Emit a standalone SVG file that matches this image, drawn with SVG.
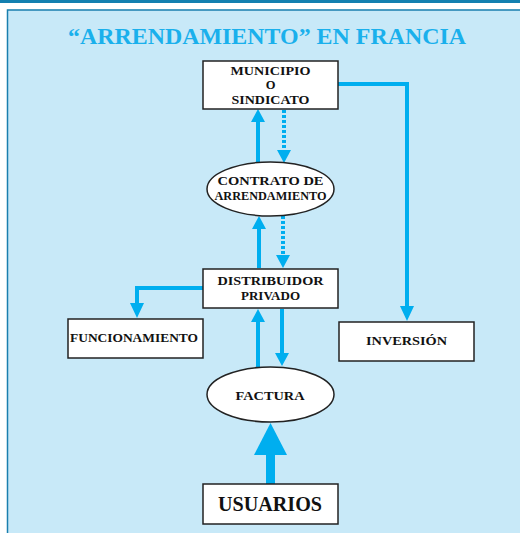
<svg xmlns="http://www.w3.org/2000/svg" width="520" height="533" viewBox="0 0 520 533">
<style>
.box{fill:#fff;stroke:#222;stroke-width:1.5}
.t{font-family:"Liberation Serif","Times New Roman",serif;font-weight:bold;fill:#111;text-anchor:middle}
.ln{fill:none;stroke:#00aeef;stroke-width:4}
.dot{fill:none;stroke:#00aeef;stroke-width:4;stroke-dasharray:3 2}
.hd{fill:#00aeef}
</style>
<rect x="0" y="0" width="520" height="533" fill="#fff"/>
<rect x="0" y="0" width="520" height="3" fill="#1380b0"/>
<rect x="7" y="9.5" width="513" height="523.5" fill="#c8e9f8"/>
<path d="M7.5 533 V10 H520" fill="none" stroke="#1a7fae" stroke-width="1.5"/>
<text x="267" y="44" font-family="'Liberation Serif','Times New Roman',serif" font-weight="bold" font-size="24" fill="#1ab0ec" text-anchor="middle" textLength="398" lengthAdjust="spacingAndGlyphs">“ARRENDAMIENTO” EN FRANCIA</text>
<g id="connectors">
<path class="ln" d="M258 163 V120"/><polygon class="hd" points="251,122 265,122 258,109"/>
<path class="dot" d="M284 110 V152"/><polygon class="hd" points="277,150 291,150 284,163"/>
<path class="ln" d="M259 268 V227"/><polygon class="hd" points="252,229 266,229 259,216"/>
<path class="dot" d="M283 216 V257"/><polygon class="hd" points="276,255 290,255 283,268"/>
<path class="ln" d="M203 288 H137 V305"/><polygon class="hd" points="130,303 144,303 137,318"/>
<path class="ln" d="M338 84 H407 V308"/><polygon class="hd" points="400,306 414,306 407,321"/>
<path class="ln" d="M258 367 V320"/><polygon class="hd" points="251,322 265,322 258,309"/>
<path class="ln" d="M282 309 V355"/><polygon class="hd" points="275,353 289,353 282,366"/>
<path d="M270.5 484 V452" stroke="#00aeef" stroke-width="9" fill="none"/><polygon class="hd" points="254,455 287,455 270.5,423"/>
</g>
<g id="municipio"><rect class="box" x="203" y="61" width="135" height="48"/>
<text class="t" font-size="12.5" x="270.5" y="74.5" textLength="80" lengthAdjust="spacingAndGlyphs">MUNICIPIO</text>
<text class="t" font-size="12.5" x="270.5" y="89">O</text>
<text class="t" font-size="12.5" x="270.5" y="103.5" textLength="78" lengthAdjust="spacingAndGlyphs">SINDICATO</text></g>
<g id="contrato"><ellipse cx="270.5" cy="189" rx="63.5" ry="27" fill="#fff" stroke="#222" stroke-width="1.5"/>
<text class="t" font-size="13" x="270.5" y="184.5" textLength="106" lengthAdjust="spacingAndGlyphs">CONTRATO DE</text>
<text class="t" font-size="13" x="270.5" y="199.5" textLength="112" lengthAdjust="spacingAndGlyphs">ARRENDAMIENTO</text></g>
<g id="distribuidor"><rect class="box" x="203" y="269" width="135" height="39"/>
<text class="t" font-size="13" x="270.5" y="284.5" textLength="106" lengthAdjust="spacingAndGlyphs">DISTRIBUIDOR</text>
<text class="t" font-size="13" x="270.5" y="299.5" textLength="59" lengthAdjust="spacingAndGlyphs">PRIVADO</text></g>
<g id="funcionamiento"><rect class="box" x="68" y="319" width="135" height="39"/>
<text class="t" font-size="13.5" x="134" y="342" textLength="128" lengthAdjust="spacingAndGlyphs">FUNCIONAMIENTO</text></g>
<g id="inversion"><rect class="box" x="339" y="322" width="135" height="39"/>
<text class="t" font-size="12.5" x="406.5" y="344.5" textLength="81" lengthAdjust="spacingAndGlyphs">INVERSIÓN</text></g>
<g id="factura"><ellipse cx="270.5" cy="394.5" rx="63.5" ry="27.5" fill="#fff" stroke="#222" stroke-width="1.5"/>
<text class="t" font-size="12.5" x="270" y="399.5" textLength="69" lengthAdjust="spacingAndGlyphs">FACTURA</text></g>
<g id="usuarios"><rect class="box" x="203" y="484" width="135" height="40"/>
<text class="t" font-size="20" x="270" y="510.5" textLength="104" lengthAdjust="spacingAndGlyphs">USUARIOS</text></g>
</svg>
